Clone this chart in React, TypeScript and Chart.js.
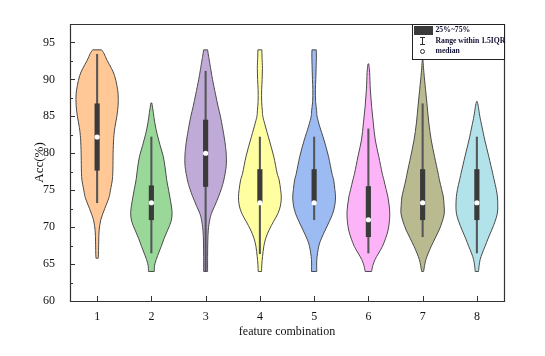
import React, { useEffect, useRef } from "react";
import { Chart, registerables } from "chart.js";

Chart.register(...registerables);

// ---------- data ----------
const categories = [1, 2, 3, 4, 5, 6, 7, 8];
const xTickLabels = ["1", "2", "3", "4", "5", "6", "7", "8"];
const yTickValues = [60, 65, 70, 75, 80, 85, 90, 95];
const yMinorValues = [62.5, 67.5, 72.5, 77.5, 82.5, 87.5, 92.5];

const q1 = [77.7, 71.0, 75.5, 73.3, 73.3, 68.7, 71.0, 71.0];
const q3 = [86.7, 75.6, 84.5, 77.8, 77.8, 75.5, 77.8, 77.8];
const medians = [82.2, 73.3, 80.0, 73.3, 73.3, 71.0, 73.3, 73.3];
const whiskerLow = [73.3, 66.5, 64.0, 66.4, 71.0, 66.5, 68.7, 66.5];
const whiskerHigh = [93.4, 82.2, 91.1, 82.2, 82.2, 83.3, 86.7, 82.2];

const violinColors = [
  "#FFC896",
  "#9AD89A",
  "#BFAAD8",
  "#FFFFA2",
  "#9BBBF2",
  "#FDB3F8",
  "#B9BA8F",
  "#B2E2EA",
];

// relative density profiles (level -> relative half width)
const levels1 = [94.0, 93.5, 92.6, 91.5, 90.5, 89.2, 88.0, 86.5, 85.0, 83.5, 82.0, 80.0, 78.0, 76.5, 75.0, 74.0, 72.5, 71.0, 69.5, 68.0, 66.5, 65.8];
const density1 = [4.5, 7, 10, 14.5, 17.7, 20, 21.3, 21.3, 20, 18, 16.8, 16.2, 16, 15.5, 13.5, 12, 7.7, 3.7, 2, 1.6, 1.4, 1.2];

const levels2 = [86.8, 85.5, 84.1, 82.5, 81.0, 79.6, 78.0, 76.4, 75.0, 73.5, 72.0, 70.8, 69.6, 68.5, 67.4, 66.2, 65.1, 64.4, 64.0];
const density2 = [0.5, 2, 3.5, 6, 9, 12, 14, 15.5, 17.5, 19.5, 21, 20, 16.5, 13, 10, 6.5, 3.7, 3, 3];

const levels3 = [94.0, 93.3, 92.6, 91.3, 90.0, 88.0, 86.3, 85.0, 83.6, 81.8, 80.5, 79.6, 78.2, 76.4, 75.2, 74.1, 72.8, 71.9, 71.0, 69.6, 68.0, 66.0, 64.0];
const density3 = [2, 2.8, 3.7, 5.3, 7, 10, 12.7, 15, 17, 19.3, 20.5, 21, 20.8, 18.5, 16, 13, 9, 6, 4.2, 2.7, 2.2, 2, 2];

const levels4 = [94.0, 93.0, 91.5, 90.0, 88.6, 87.0, 85.8, 85.0, 83.7, 81.8, 79.6, 77.3, 76.4, 75.1, 74.1, 73.0, 71.9, 70.8, 69.6, 68.5, 67.4, 66.0, 65.0, 64.0];
const density4 = [2, 2.2, 2.6, 2.3, 1.8, 1.8, 2.5, 3, 5.5, 9.5, 14, 17.5, 19.5, 21, 21.7, 21, 18.5, 14, 9.3, 6, 4, 2.7, 2, 1.7];

const levels5 = [94.0, 93.0, 91.5, 90.0, 88.6, 87.0, 85.8, 85.0, 83.7, 81.8, 79.6, 77.3, 76.4, 75.1, 74.1, 73.0, 71.9, 70.8, 69.6, 68.5, 67.4, 65.6, 64.0];
const density5 = [2.2, 2.3, 2, 1.7, 1.3, 1.5, 2.5, 3, 5.5, 10, 14.5, 18, 19.8, 21, 21.7, 21, 19, 15.5, 11.3, 7.5, 4.7, 2.7, 2.7];

const levels6 = [92.1, 90.9, 88.6, 86.3, 84.1, 81.8, 79.6, 77.3, 76.4, 75.1, 74.1, 73.0, 71.9, 70.8, 69.6, 68.5, 67.4, 66.5, 65.6, 64.8, 64.0];
const density6 = [0.4, 1.3, 2, 3.3, 5, 7, 10.5, 14, 15.7, 18, 19.8, 21, 21.7, 21.3, 20, 17.5, 14.3, 10.5, 6.7, 4.5, 3.3];

const levels7 = [92.6, 90.9, 88.6, 86.3, 84.1, 81.8, 79.6, 77.3, 76.4, 75.1, 74.1, 73.0, 71.9, 70.8, 69.6, 68.5, 67.4, 66.5, 65.6, 64.8, 64.0];
const density7 = [0.4, 1.3, 3, 4.7, 6.3, 8.7, 12, 15.7, 17, 19.3, 21, 21.7, 22, 20, 16.7, 12.7, 8.7, 5.8, 3.3, 2, 1];

const levels8 = [87.0, 86.3, 85.0, 83.7, 81.8, 79.6, 77.3, 76.4, 75.1, 74.1, 73.0, 71.9, 70.8, 69.6, 68.5, 67.4, 66.5, 65.6, 64.8, 64.0];
const density8 = [0.4, 1.5, 3, 5, 8, 12, 16, 17.5, 19.7, 20.8, 21.2, 20.8, 18.5, 15, 11.5, 8.3, 5.5, 3.3, 2.3, 1.7];

const violinLevels = [levels1, levels2, levels3, levels4, levels5, levels6, levels7, levels8];
const violinDensity = [density1, density2, density3, density4, density5, density6, density7, density8];

const legendLabels = ["25%~75%", "Range within 1.5IQR", "median"];
const xTitle = "feature combination";
const yTitle = "Acc(%)";

// ---------- styling ----------
const FONT = "'Liberation Serif', 'Times New Roman', serif";
const MAX_HALF_WIDTH = 0.4; // x-axis units
const OUTLINE = "#4a4a4a";
const AXIS = "#333333";

type Pt = { x: number; y: number };

function splineThrough(ctx: CanvasRenderingContext2D, pts: Pt[], moveFirst: boolean) {
  if (pts.length === 0) return;
  if (moveFirst) ctx.moveTo(pts[0].x, pts[0].y);
  else ctx.lineTo(pts[0].x, pts[0].y);
  for (let i = 0; i < pts.length - 1; i++) {
    const p0 = pts[Math.max(0, i - 1)];
    const p1 = pts[i];
    const p2 = pts[i + 1];
    const p3 = pts[Math.min(pts.length - 1, i + 2)];
    const c1x = p1.x + (p2.x - p0.x) / 6;
    const c1y = p1.y + (p2.y - p0.y) / 6;
    const c2x = p2.x - (p3.x - p1.x) / 6;
    const c2y = p2.y - (p3.y - p1.y) / 6;
    ctx.bezierCurveTo(c1x, c1y, c2x, c2y, p2.x, p2.y);
  }
}

const violinPlugin = {
  id: "violins",
  beforeDatasetsDraw(chart: any) {
    const { ctx, scales } = chart;
    const xs = scales.x;
    const ys = scales.y;
    let maxD = 0;
    violinDensity.forEach((arr) => arr.forEach((d) => (maxD = Math.max(maxD, d))));
    ctx.save();
    categories.forEach((c, i) => {
      const lv = violinLevels[i];
      const dn = violinDensity[i];
      const right: Pt[] = lv.map((v, k) => ({
        x: xs.getPixelForValue(c + (dn[k] / maxD) * MAX_HALF_WIDTH),
        y: ys.getPixelForValue(v),
      }));
      const left: Pt[] = lv
        .map((v, k) => ({
          x: xs.getPixelForValue(c - (dn[k] / maxD) * MAX_HALF_WIDTH),
          y: ys.getPixelForValue(v),
        }))
        .reverse();
      ctx.beginPath();
      splineThrough(ctx, right, true);
      splineThrough(ctx, left, false);
      ctx.closePath();
      ctx.fillStyle = violinColors[i];
      ctx.fill();
      ctx.lineWidth = 1;
      ctx.strokeStyle = OUTLINE;
      ctx.lineJoin = "round";
      ctx.stroke();
    });
    ctx.restore();
  },
  afterDatasetsDraw(chart: any) {
    const { ctx, chartArea, scales } = chart;
    const { left, right, top, bottom } = chartArea;
    ctx.save();
    ctx.strokeStyle = AXIS;
    ctx.lineWidth = 1.2;
    ctx.beginPath();
    ctx.rect(Math.round(left) + 0.5, Math.round(top) + 0.5, Math.round(right - left), Math.round(bottom - top));
    ctx.stroke();
    ctx.lineWidth = 1;
    ctx.beginPath();
    yTickValues.forEach((v) => {
      const y = Math.round(scales.y.getPixelForValue(v)) + 0.5;
      ctx.moveTo(left, y);
      ctx.lineTo(left + 5, y);
    });
    yMinorValues.forEach((v) => {
      const y = Math.round(scales.y.getPixelForValue(v)) + 0.5;
      ctx.moveTo(left, y);
      ctx.lineTo(left + 3, y);
    });
    categories.forEach((c) => {
      const x = Math.round(scales.x.getPixelForValue(c)) + 0.5;
      ctx.moveTo(x, bottom);
      ctx.lineTo(x, bottom - 5);
    });
    ctx.stroke();
    ctx.restore();
  },
  afterDraw(chart: any) {
    const { ctx, chartArea } = chart;
    const w = 92;
    const h = 35;
    const lx = Math.round(chartArea.right - w) + 0.5;
    const ly = Math.round(chartArea.top) + 0.5;
    ctx.save();
    ctx.fillStyle = "#ffffff";
    ctx.fillRect(lx, ly, w, h);
    ctx.strokeStyle = "#222";
    ctx.lineWidth = 1;
    ctx.strokeRect(lx, ly, w, h);
    ctx.fillStyle = "#3a3a3a";
    ctx.fillRect(lx + 1.5, ly + 1.5, 19, 9);
    const sx = lx + 10;
    ctx.strokeStyle = "#333";
    ctx.beginPath();
    ctx.moveTo(sx, ly + 13);
    ctx.lineTo(sx, ly + 20);
    ctx.moveTo(sx - 2.5, ly + 13);
    ctx.lineTo(sx + 2.5, ly + 13);
    ctx.moveTo(sx - 2.5, ly + 20);
    ctx.lineTo(sx + 2.5, ly + 20);
    ctx.stroke();
    ctx.beginPath();
    ctx.arc(sx, ly + 27, 2, 0, Math.PI * 2);
    ctx.stroke();
    ctx.fillStyle = "#111133";
    ctx.font = `bold 7.7px ${FONT}`;
    ctx.textBaseline = "middle";
    ctx.textAlign = "left";
    const rowsY = [6, 16.5, 27];
    legendLabels.forEach((t, i) => ctx.fillText(t, lx + 23, ly + rowsY[i]));
    ctx.restore();
  },
};

export default function App() {
  const ref = useRef<HTMLCanvasElement | null>(null);
  useEffect(() => {
    if (!ref.current) return;
    const chart = new Chart(ref.current, {
      type: "bar",
      data: {
        datasets: [
          {
            type: "scatter",
            label: "median",
            data: categories.map((c, i) => ({ x: c, y: medians[i] })),
            pointRadius: 2.6,
            pointBackgroundColor: "#ffffff",
            pointBorderWidth: 0,
            pointBorderColor: "#ffffff",
            order: 1,
          } as any,
          {
            type: "bar",
            label: "box",
            data: categories.map((c, i) => ({ x: c, y: [q1[i], q3[i]] })),
            backgroundColor: "#3a3a3a",
            barThickness: 4.5,
            grouped: false,
            order: 2,
          } as any,
          {
            type: "bar",
            label: "whisker",
            data: categories.map((c, i) => ({ x: c, y: [whiskerLow[i], whiskerHigh[i]] })),
            backgroundColor: "#555555",
            barThickness: 1.4,
            grouped: false,
            order: 3,
          } as any,
        ],
      },
      options: {
        responsive: false,
        animation: false,
        layout: { padding: { top: 24, right: 41, left: 0, bottom: 0 } },
        plugins: { legend: { display: false }, tooltip: { enabled: false } },
        scales: {
          x: {
            type: "linear",
            min: 0.5,
            max: 8.5,
            offset: false,
            grid: { display: false },
            border: { display: false },
            afterBuildTicks: (s: any) => {
              s.ticks = categories.map((v) => ({ value: v }));
            },
            afterFit: (s: any) => {
              s.height = 55;
            },
            ticks: {
              padding: 1,
              color: "#111",
              font: { family: FONT, size: 12 },
              callback: (v: any) => xTickLabels[categories.indexOf(Number(v))] ?? "",
            },
            title: {
              display: true,
              text: xTitle,
              color: "#111",
              font: { family: FONT, size: 12 },
              padding: { top: 0, bottom: 17 },
            },
          },
          y: {
            type: "linear",
            min: 60,
            max: 97.5,
            grid: { display: false },
            border: { display: false },
            afterBuildTicks: (s: any) => {
              s.ticks = yTickValues.map((v) => ({ value: v }));
            },
            afterFit: (s: any) => {
              s.width = 70;
            },
            ticks: {
              padding: 7,
              color: "#111",
              font: { family: FONT, size: 12 },
            },
            title: {
              display: true,
              text: yTitle,
              color: "#111",
              font: { family: FONT, size: 13 },
              padding: { top: 32, bottom: 0 },
            },
          },
        },
      } as any,
      plugins: [violinPlugin],
    });
    return () => chart.destroy();
  }, []);
  return (
    <div style={{ position: "absolute", left: 0, top: 0, width: 545, height: 356, background: "#fff" }}>
      <canvas ref={ref} width={545} height={356} style={{ width: 545, height: 356, display: "block" }} />
    </div>
  );
}
